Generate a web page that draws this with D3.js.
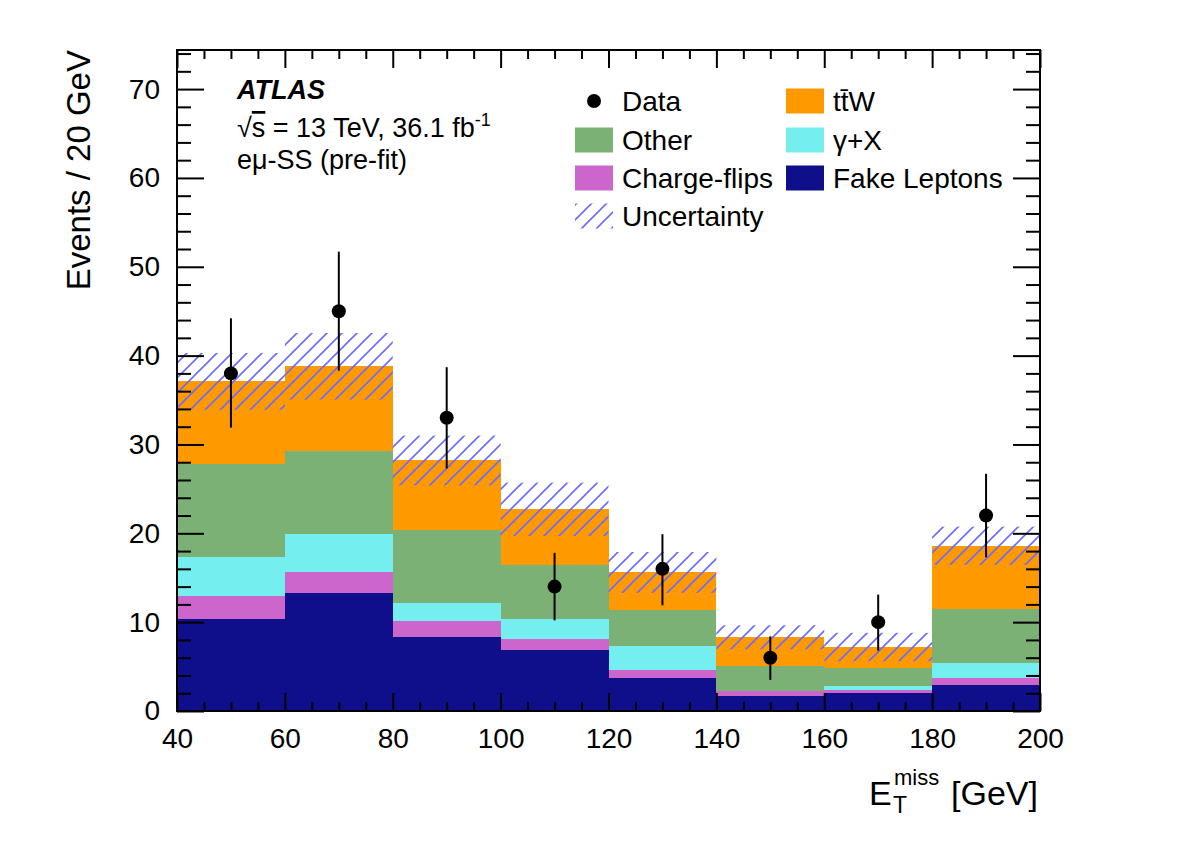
<!DOCTYPE html>
<html>
<head>
<meta charset="utf-8">
<script src="https://cdn.jsdelivr.net/npm/d3@7"></script>
<style>
  body { margin: 0; background: #fff; }
  svg text { font-family: "Liberation Sans", Arial, Helvetica, sans-serif; fill: #000; }
</style>
</head>
<body>
<svg id="chart" width="1182" height="848"></svg>
<script>
// bin edges in MET [GeV]
const binEdges = [40, 60, 80, 100, 120, 140, 160, 180, 200];

// background contributions per bin (stacked bottom -> top)
const fakeLeptons = [10.3, 13.25, 8.3, 6.9, 3.75, 1.7, 2.0, 2.9];
const chargeFlips = [2.6, 2.35, 1.8, 1.2, 0.85, 0.5, 0.4, 0.85];
const gammaX      = [4.4, 4.3, 2.0, 2.2, 2.7, 0.1, 0.4, 1.65];
const other       = [10.5, 9.4, 8.3, 6.1, 4.1, 2.8, 2.0, 6.1];
const ttW         = [9.3, 9.5, 7.8, 6.3, 4.2, 3.2, 2.4, 7.1];

// total uncertainty (symmetric) on the stack
const uncertainty = [3.2, 3.75, 2.8, 3.0, 2.3, 1.35, 1.6, 2.15];

// observed data with asymmetric errors
const dataCounts  = [38, 45, 33, 14, 16, 6, 10, 22];
const dataErrUp   = [6.2, 6.7, 5.7, 3.8, 3.9, 2.4, 3.1, 4.7];
const dataErrDown = [6.1, 6.7, 5.7, 3.8, 4.1, 2.5, 3.2, 4.7];

const xMajorTicks = [40, 60, 80, 100, 120, 140, 160, 180, 200];
const yMajorTicks = [0, 10, 20, 30, 40, 50, 60, 70];

const seriesKeys = ["fake", "cf", "gamma", "other", "ttw"];
const colors = {
    fake: "#0f0f8c",
    cf: "#cc66cc",
    gamma: "#74eeee",
    other: "#7bb174",
    ttw: "#ff9900"
};
const hatchColor = "#6b6bff";

const svg = d3.select("#chart");
const pLeft = 177, pRight = 1040, pTop = 50, pBottom = 711;

const x = d3.scaleLinear().domain([40, 200]).range([pLeft, pRight]);
const y = d3.scaleLinear().domain([0, 74.4]).range([pBottom, pTop]);

// hatch pattern for the uncertainty band
const defs = svg.append("defs");
const pat = defs.append("pattern")
    .attr("id", "hatch")
    .attr("patternUnits", "userSpaceOnUse")
    .attr("width", 15)
    .attr("height", 15);
pat.append("path")
    .attr("d", "M-4,4 L4,-4 M0,15 L15,0 M11,19 L19,11")
    .attr("stroke", hatchColor)
    .attr("stroke-width", 1.6);

// build table for the stack
const bins = fakeLeptons.map((_, i) => ({
    lo: binEdges[i], hi: binEdges[i + 1],
    fake: fakeLeptons[i], cf: chargeFlips[i], gamma: gammaX[i],
    other: other[i], ttw: ttW[i]
}));

const stacked = d3.stack().keys(seriesKeys)(bins);

const plot = svg.append("g");

plot.selectAll("g.layer")
    .data(stacked)
    .enter().append("g")
    .attr("class", "layer")
    .attr("fill", d => colors[d.key])
    .selectAll("rect")
    .data(d => d)
    .enter().append("rect")
    .attr("x", d => x(d.data.lo))
    .attr("width", d => x(d.data.hi) - x(d.data.lo))
    .attr("y", d => y(d[1]))
    .attr("height", d => y(d[0]) - y(d[1]))
    .attr("shape-rendering", "crispEdges");

// uncertainty band
const totals = bins.map((b, i) => stacked[stacked.length - 1][i][1]);
plot.selectAll("rect.unc")
    .data(bins)
    .enter().append("rect")
    .attr("class", "unc")
    .attr("x", d => x(d.lo))
    .attr("width", d => x(d.hi) - x(d.lo))
    .attr("y", (d, i) => y(totals[i] + uncertainty[i]))
    .attr("height", (d, i) => y(totals[i] - uncertainty[i]) - y(totals[i] + uncertainty[i]))
    .attr("fill", "url(#hatch)");

// data points
const pts = bins.map((b, i) => ({
    xc: (b.lo + b.hi) / 2, v: dataCounts[i], up: dataErrUp[i], dn: dataErrDown[i]
}));

plot.selectAll("line.err")
    .data(pts)
    .enter().append("line")
    .attr("class", "err")
    .attr("x1", d => x(d.xc)).attr("x2", d => x(d.xc))
    .attr("y1", d => y(d.v + d.up)).attr("y2", d => y(d.v - d.dn))
    .attr("stroke", "#000")
    .attr("stroke-width", 2);

plot.selectAll("circle.pt")
    .data(pts)
    .enter().append("circle")
    .attr("class", "pt")
    .attr("cx", d => x(d.xc))
    .attr("cy", d => y(d.v))
    .attr("r", 7)
    .attr("fill", "#000");

// axes: ROOT style ticks inside on all four sides
const xMinor = d3.range(40, 201, 5).filter(v => !xMajorTicks.includes(v));
const yMinor = d3.range(0, 74.4, 2).filter(v => !yMajorTicks.includes(v));

function styleAxis(g) {
    g.select(".domain").remove();
    g.selectAll(".tick line").attr("stroke", "#000").attr("stroke-width", 2);
    g.selectAll(".tick text").style("font-size", "28px");
}

svg.append("g")
    .attr("transform", `translate(0,${pBottom})`)
    .call(d3.axisBottom(x).tickValues(xMajorTicks).tickSize(-18).tickPadding(17))
    .call(styleAxis);
svg.append("g")
    .attr("transform", `translate(0,${pBottom})`)
    .call(d3.axisBottom(x).tickValues(xMinor).tickSize(-9).tickFormat(""))
    .call(styleAxis);
svg.append("g")
    .attr("transform", `translate(0,${pTop})`)
    .call(d3.axisTop(x).tickValues(xMajorTicks).tickSize(-18).tickFormat(""))
    .call(styleAxis);
svg.append("g")
    .attr("transform", `translate(0,${pTop})`)
    .call(d3.axisTop(x).tickValues(xMinor).tickSize(-9).tickFormat(""))
    .call(styleAxis);

svg.append("g")
    .attr("transform", `translate(${pLeft},0)`)
    .call(d3.axisLeft(y).tickValues(yMajorTicks).tickSize(-27).tickPadding(17))
    .call(styleAxis);
svg.append("g")
    .attr("transform", `translate(${pLeft},0)`)
    .call(d3.axisLeft(y).tickValues(yMinor).tickSize(-14).tickFormat(""))
    .call(styleAxis);
svg.append("g")
    .attr("transform", `translate(${pRight},0)`)
    .call(d3.axisRight(y).tickValues(yMajorTicks).tickSize(-27).tickFormat(""))
    .call(styleAxis);
svg.append("g")
    .attr("transform", `translate(${pRight},0)`)
    .call(d3.axisRight(y).tickValues(yMinor).tickSize(-14).tickFormat(""))
    .call(styleAxis);

// frame
svg.append("rect")
    .attr("x", pLeft).attr("y", pTop)
    .attr("width", pRight - pLeft).attr("height", pBottom - pTop)
    .attr("fill", "none").attr("stroke", "#000").attr("stroke-width", 2);

// axis titles
svg.append("text")
    .attr("transform", `translate(90,${pTop}) rotate(-90)`)
    .attr("text-anchor", "end")
    .style("font-size", "33px")
    .text("Events / 20 GeV");

const xt = svg.append("g");
xt.append("text").attr("x", 869).attr("y", 805).style("font-size", "34px").text("E");
xt.append("text").attr("x", 894).attr("y", 785).style("font-size", "22px").text("miss");
xt.append("text").attr("x", 893).attr("y", 813).style("font-size", "23px").text("T");
xt.append("text").attr("x", 1038).attr("y", 805).attr("text-anchor", "end")
    .style("font-size", "34px").text("[GeV]");

// ATLAS label
svg.append("text")
    .attr("x", 237).attr("y", 99)
    .style("font-size", "27px").style("font-weight", "bold").style("font-style", "italic")
    .text("ATLAS");
const lumi = svg.append("text").attr("x", 237).attr("y", 137).style("font-size", "27px");
lumi.append("tspan").text("\u221A");
lumi.append("tspan").style("text-decoration", "overline").text("s");
lumi.append("tspan").text(" = 13 TeV, 36.1 fb");
lumi.append("tspan").attr("dy", -11).style("font-size", "18px").text("-1");
svg.append("text")
    .attr("x", 237).attr("y", 169)
    .style("font-size", "27px")
    .text("e\u03BC-SS (pre-fit)");

// legend
const legendEntries = [
    { label: "Data", type: "data", col: 0, row: 0 },
    { label: "t\u0074\u0304W", type: "ttw", col: 1, row: 0 },
    { label: "Other", type: "other", col: 0, row: 1 },
    { label: "\u03B3+X", type: "gamma", col: 1, row: 1 },
    { label: "Charge-flips", type: "cf", col: 0, row: 2 },
    { label: "Fake Leptons", type: "fake", col: 1, row: 2 },
    { label: "Uncertainty", type: "unc", col: 0, row: 3 }
];
const colX = [575, 786];
const rowY = [101, 140, 178, 216];
const boxW = 38, boxH = 25;

const leg = svg.append("g");
legendEntries.forEach(e => {
    const bx = colX[e.col], cy = rowY[e.row];
    if (e.type === "data") {
        leg.append("circle").attr("cx", bx + boxW / 2).attr("cy", cy).attr("r", 7).attr("fill", "#000");
    } else if (e.type === "unc") {
        leg.append("rect").attr("x", bx).attr("y", cy - boxH / 2)
            .attr("width", boxW).attr("height", boxH).attr("fill", "url(#hatch)");
    } else {
        leg.append("rect").attr("x", bx).attr("y", cy - boxH / 2)
            .attr("width", boxW).attr("height", boxH).attr("fill", colors[e.type]);
    }
    leg.append("text")
        .attr("x", bx + boxW + 9).attr("y", cy + 10)
        .style("font-size", "28px")
        .text(e.label);
});
</script>
</body>
</html>
